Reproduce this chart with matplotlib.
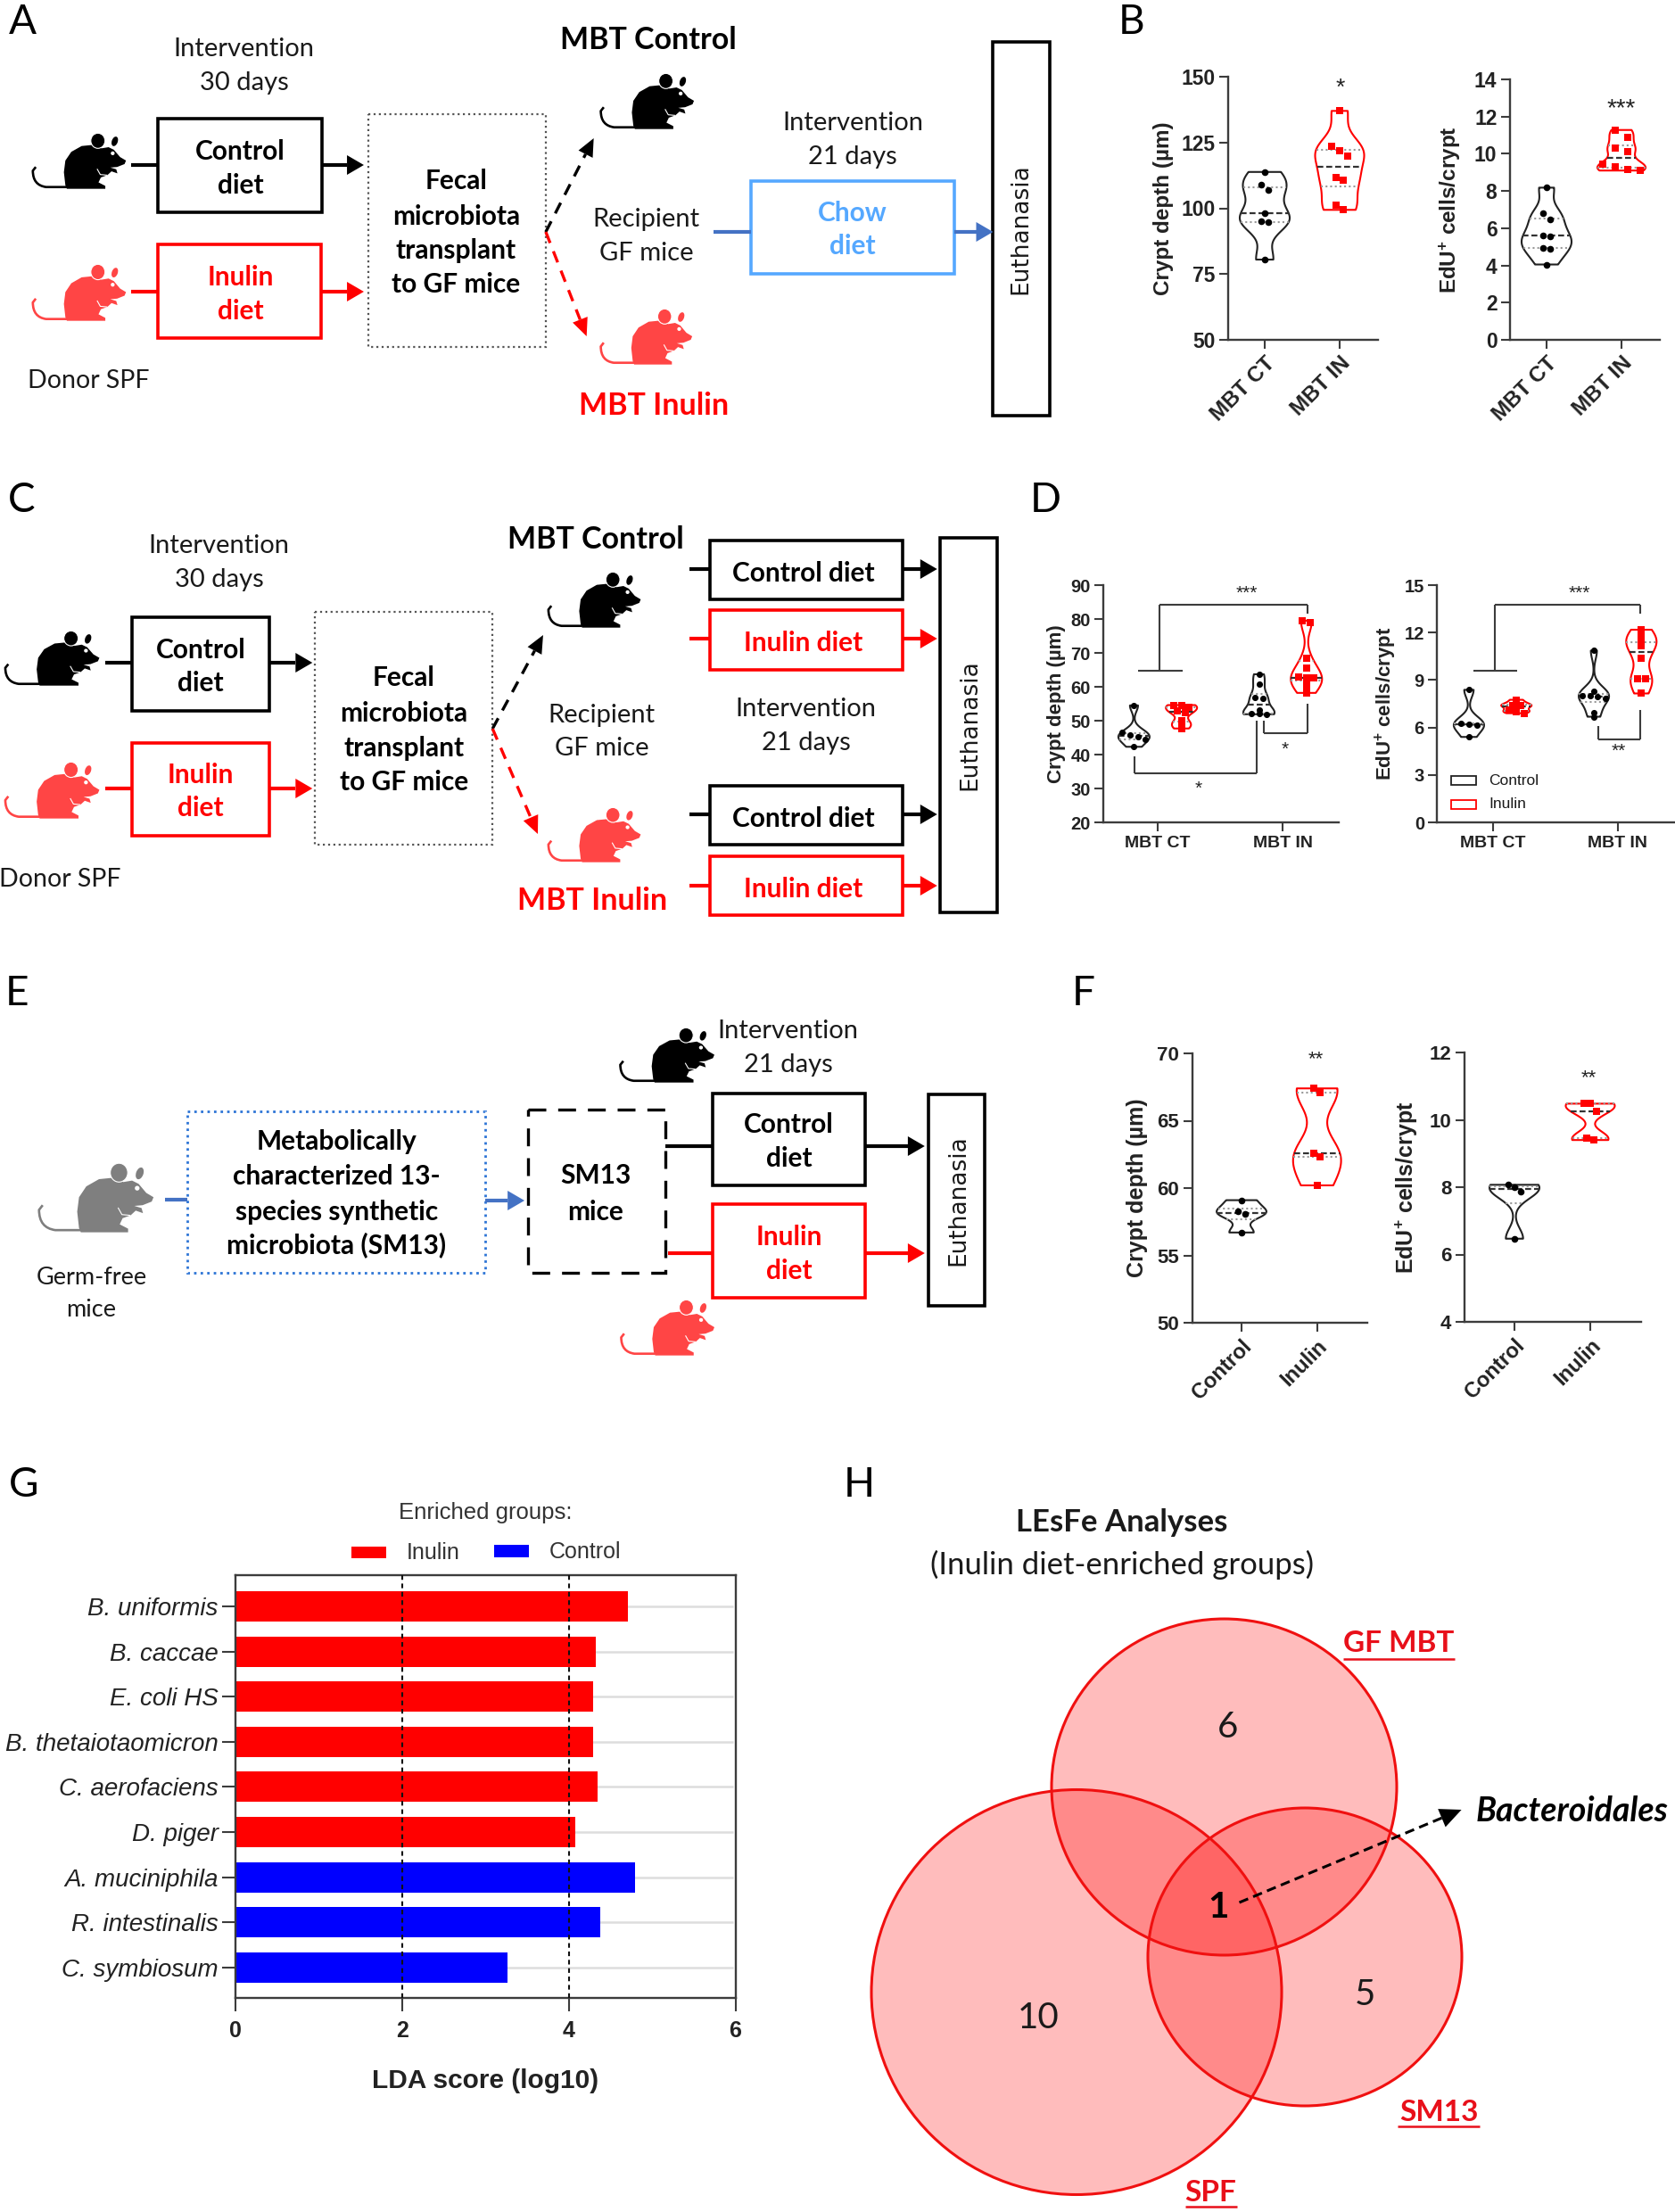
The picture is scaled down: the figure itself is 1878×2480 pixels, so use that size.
import numpy as np
import matplotlib
matplotlib.use("Agg")
import matplotlib.pyplot as plt
from matplotlib.patches import Rectangle, Ellipse, Polygon, PathPatch
from matplotlib.path import Path

plt.rcParams['font.family'] = ['Liberation Sans', 'DejaVu Sans']
plt.rcParams['mathtext.fontset'] = 'custom'
plt.rcParams['mathtext.rm'] = 'Liberation Sans'
plt.rcParams['mathtext.bf'] = 'Liberation Sans:bold'
plt.rcParams['mathtext.it'] = 'Liberation Sans:italic'

# ---------- data ----------
b_labels = ["MBT CT", "MBT IN"]
b_crypt_ct = [113.8, 108.9, 106.8, 98.1, 95.0, 94.7, 80.5]
b_crypt_in = [137.0, 123.7, 121.8, 119.7, 111.7, 110.7, 101.2, 99.4]
b_edu_ct = [8.18, 6.8, 6.45, 5.63, 5.55, 4.93, 4.9, 4.05]
b_edu_in = [11.28, 10.9, 10.33, 10.13, 9.44, 9.3, 9.17, 9.1]

d_crypt_ct_ctrl = [54.5, 46.5, 45.8, 45.2, 44.4, 42.3]
d_crypt_ct_inu = [54.6, 54.6, 53.9, 52.8, 52.4, 49.9, 48.8, 47.7]
d_crypt_in_ctrl = [63.7, 60.7, 56.8, 56.5, 53.1, 52.0, 52.0, 51.9]
d_crypt_in_inu = [79.5, 79.0, 68.3, 65.4, 62.8, 62.7, 62.7, 61.5, 60.1, 58.2]
d_edu_ct_ctrl = [8.38, 6.27, 6.23, 6.15, 5.4]
d_edu_ct_inu = [7.75, 7.55, 7.4, 7.4, 7.25, 7.1, 7.0, 6.9]
d_edu_in_ctrl = [10.86, 8.3, 8.03, 8.0, 7.95, 7.85, 6.96, 6.68]
d_edu_in_inu = [12.18, 11.72, 11.3, 11.15, 10.35, 9.07, 9.07, 8.15]

f_labels = ["Control", "Inulin"]
f_crypt_ctrl = [59.1, 58.3, 58.05, 56.7]
f_crypt_inu = [67.4, 67.1, 62.6, 62.3, 60.2]
f_edu_ctrl = [8.07, 8.0, 7.87, 6.47]
f_edu_inu = [10.48, 10.48, 10.25, 9.47, 9.4]

g_taxa = ["B. uniformis", "B. caccae", "E. coli HS", "B. thetaiotaomicron", "C. aerofaciens",
          "D. piger", "A. muciniphila", "R. intestinalis", "C. symbiosum"]
g_scores = [4.71, 4.33, 4.29, 4.29, 4.345, 4.075, 4.80, 4.38, 3.265]
g_groups = ["Inulin"] * 6 + ["Control"] * 3
venn_counts = ["6", "10", "5", "1"]

# ---------- figure ----------
W, H = 1878, 2480
fig = plt.figure(figsize=(W / 100, H / 100), dpi=100, facecolor='white')
ov_d = fig.add_axes([0, 0, 1, 1], zorder=10)
ov_d.set_xlim(0, W); ov_d.set_ylim(H, 0); ov_d.axis('off'); ov_d.patch.set_alpha(0)
ov_s = fig.add_axes([0, 0, 1, 1], zorder=11, label='schemes')
ov_s.set_xlim(0, W / 0.995); ov_s.set_ylim(H, 0); ov_s.axis('off'); ov_s.patch.set_alpha(0)
ov = ov_d

SC = 'Lato'
RED = '#ff0000'; MRED = '#ff4545'; DARK = '#3c3c3c'
FS = 21      # plain schematic text
FB = 21.5    # bold schematic text
FM = 24.5    # MBT headings

def T(x, y, s, size=FS, color='#1a1a1a', weight='normal', family=SC, ha='center', va='center', **kw):
    if family == SC:
        y = y + 2
    return ov.text(x, y, s, fontsize=size, color=color, fontweight=weight, family=family, ha=ha, va=va, **kw)

def B(x, y, s, color='black'):
    return T(x, y, s, size=FB, weight='bold', color=color)

def L(xs, ys, color='black', lw=2.2, ls='-', z=3):
    ov.plot(xs, ys, color=color, lw=lw, ls=ls, zorder=z, solid_capstyle='butt', dash_capstyle='butt')

def box(x0, y0, x1, y1, color='black', lw=2.6, ls='-'):
    ov.add_patch(Rectangle((x0, y0), x1 - x0, y1 - y0, fill=False, ec=color, lw=lw, ls=ls, zorder=3))

def arrow(x0, y0, x1, y1, color='black', lw=3, hl=19, hw=11, ls='-'):
    d = np.array([x1 - x0, y1 - y0], float); u = d / np.hypot(*d); n = np.array([-u[1], u[0]])
    tip = np.array([x1, y1]); base = tip - u * hl
    L([x0, base[0]], [y0, base[1]], color, lw, ls)
    ov.add_patch(Polygon([tip, base + n * hw, base - n * hw], closed=True, fc=color, ec='none', zorder=4))

def mouse(x0, y0, x1, y1, color):
    fx = lambda X: x0 + (np.asarray(X, float) - 40) / 315 * (x1 - x0)
    fy = lambda Y: y0 + (np.asarray(Y, float) - 38) / 190 * (y1 - y0)
    body = [(150, 215), (145, 170), (150, 130), (170, 100), (205, 80), (245, 76), (272, 88), (296, 84), (314, 93),
            (335, 118), (355, 130), (350, 142), (325, 152), (302, 154), (322, 160), (326, 174), (306, 167),
            (292, 180), (270, 188), (262, 205), (285, 217), (285, 227), (240, 227), (155, 227)]
    ov.add_patch(Polygon(list(zip(fx([p[0] for p in body]), fy([p[1] for p in body]))), closed=True, fc=color, ec='none', zorder=3))
    sx = (x1 - x0) / 315; sy = (y1 - y0) / 190
    ov.add_patch(Ellipse((fx(260), fy(62)), 48 * sx, 52 * sy, fc=color, ec='white', lw=0.8, zorder=4))
    ov.add_patch(Ellipse((fx(317), fy(64)), 20 * sx, 34 * sy, angle=20, fc=color, ec='none', zorder=4))
    ov.add_patch(Ellipse((fx(310), fy(105)), 13 * sx, 13 * sy, fc='white', ec='none', zorder=5))
    ov.plot(fx([258, 268, 290]), fy([160, 178, 180]), color='white', lw=0.8, zorder=5)
    tail = Path(list(zip(fx([155, 85, 40, 40, 50]), fy([221, 221, 215, 165, 152]))),
                [Path.MOVETO, Path.LINETO, Path.CURVE3, Path.CURVE3, Path.LINETO])
    ov.add_patch(PathPatch(tail, fill=False, ec=color, lw=1.9, zorder=3))

# ---------- panel letters ----------
for s, x, y in [("A", 25, 23), ("B", 1269, 23), ("C", 24, 559), ("D", 1172, 559), ("E", 19, 1112),
                ("F", 1215, 1112), ("G", 27, 1663), ("H", 963, 1663)]:
    T(x, y, s, size=33, color='black')

ov = ov_s
# ---------- panel A ----------
T(275, 53, "Intervention"); T(275, 91, "30 days")
T(731, 43, "MBT Control", size=FM, weight='bold', color='black')
mouse(37, 150, 142, 212, 'black'); mouse(37, 297, 142, 360, MRED)
mouse(677, 83, 782, 145, 'black'); mouse(677, 347, 780, 409, MRED)
box(178, 133, 363, 238); L([148, 178], [185, 185], lw=3); arrow(363, 185, 410, 185)
B(271, 168, "Control"); B(271, 206, "diet")
box(178, 274, 362, 379, RED); L([148, 178], [327, 327], RED, 3); arrow(362, 327, 410, 327, RED)
B(271, 309, "Inulin", RED); B(271, 347, "diet", RED)
box(415, 128, 615, 389, '#555555', 1.6, ':')
for y, s in zip([201, 241, 279, 317], ["Fecal", "microbiota", "transplant", "to GF mice"]):
    B(514, y, s)
arrow(615, 260, 669, 155, 'black', 2.4, 20, 9, (0, (4, 3)))
arrow(615, 260, 661, 377, RED, 2.4, 20, 9, (0, (4, 3)))
T(728, 244, "Recipient"); T(728, 282, "GF mice")
T(961, 136, "Intervention"); T(961, 174, "21 days")
box(846, 203, 1075, 307, '#55a8ff'); L([804, 846], [260, 260], '#4472c4', 3); arrow(1075, 260, 1119, 260, '#4472c4')
B(961, 237, "Chow", '#55a8ff'); B(961, 274, "diet", '#55a8ff')
box(1119, 47, 1183, 466)
T(1150, 257, "Euthanasia", size=19, rotation=90, family='DejaVu Sans')
T(737, 453, "MBT Inulin", size=FM, weight='bold', color=RED)
T(100, 425, "Donor SPF", size=20.5)

# ---------- panel C ----------
T(247, 610, "Intervention"); T(247, 648, "30 days")
T(671, 603, "MBT Control", size=FM, weight='bold', color='black')
mouse(6, 708, 112, 769, 'black'); mouse(6, 855, 112, 918, MRED)
mouse(618, 642, 722, 704, 'black'); mouse(618, 906, 722, 967, MRED)
box(149, 692, 304, 797); L([119, 149], [743, 743], lw=3); arrow(304, 743, 352, 743)
B(226, 727, "Control"); B(226, 764, "diet")
box(149, 833, 304, 937, RED); L([119, 149], [884, 884], RED, 3); arrow(304, 884, 352, 884, RED)
B(226, 867, "Inulin", RED); B(226, 904, "diet", RED)
box(355, 686, 555, 947, '#555555', 1.6, ':')
for y, s in zip([758, 798, 837, 875], ["Fecal", "microbiota", "transplant", "to GF mice"]):
    B(455, y, s)
arrow(555, 817, 612, 712, 'black', 2.4, 20, 9, (0, (4, 3)))
arrow(555, 817, 606, 935, RED, 2.4, 20, 9, (0, (4, 3)))
T(678, 800, "Recipient"); T(678, 837, "GF mice")
T(908, 793, "Intervention"); T(908, 831, "21 days")
for y0, y1, yl, yt, s, c in [(606, 672, 638, 641, "Control diet", 'black'), (684, 751, 716, 719, "Inulin diet", RED),
                             (881, 947, 913, 916, "Control diet", 'black'), (960, 1026, 993, 995, "Inulin diet", RED)]:
    box(800, y0, 1017, y1, c); L([777, 800], [yl, yl], c, 3); arrow(1017, yl, 1056, yl, c)
    B(905, yt, s, c)
box(1059, 603, 1124, 1023)
T(1093, 813, "Euthanasia", size=19, rotation=90, family='DejaVu Sans')
T(667, 1008, "MBT Inulin", size=FM, weight='bold', color=RED)
T(68, 984, "Donor SPF", size=20.5)

# ---------- panel E ----------
mouse(44, 1305, 173, 1382, '#7f7f7f')
L([186, 211], [1345, 1345], '#4472c4', 3)
box(211, 1246, 547, 1427, '#2e75d6', 2, ':')
for y, s in zip([1278, 1317, 1357, 1394], ["Metabolically", "characterized 13-", "species synthetic", "microbiota (SM13)"]):
    B(379, y, s)
arrow(547, 1346, 591, 1346, '#4472c4')
box(595, 1244, 750, 1427, 'black', 2.4, (0, (6, 4)))
B(671, 1316, "SM13"); B(671, 1357, "mice")
box(803, 1226, 975, 1329); L([750, 803], [1285, 1285], lw=3); arrow(975, 1285, 1042, 1285)
B(889, 1259, "Control"); B(889, 1297, "diet")
box(803, 1350, 975, 1455, RED); L([753, 803], [1405, 1405], RED, 3); arrow(975, 1405, 1042, 1405, RED)
B(889, 1385, "Inulin", RED); B(889, 1423, "diet", RED)
box(1046, 1227, 1110, 1464)
T(1080, 1346, "Euthanasia", size=19, rotation=90, family='DejaVu Sans')
mouse(699, 1153, 805, 1214, 'black'); mouse(700, 1458, 805, 1520, MRED)
T(888, 1154, "Intervention"); T(888, 1192, "21 days")
T(103, 1431, "Germ-free", size=19.5); T(103, 1466, "mice", size=19.5)
ov = ov_d

# ---------- helpers for data axes ----------
def data_ax(left, right, top, bottom, ylim, yticks, x1px, upx, labels, ylabel, labx, tick_fs, xl_rot=45, xl_fs=17.5, lab_fs=17.5):
    ax = fig.add_axes([left / W, 1 - bottom / H, (right - left) / W, (bottom - top) / H], zorder=5)
    ax.set_xlim(1 - (x1px - left) / upx, 1 + (right - x1px) / upx)
    ax.set_ylim(*ylim); ax.set_yticks(yticks); ax.set_xticks([1, 2])
    if xl_rot:
        ax.set_xticklabels(labels, rotation=xl_rot, ha='right', rotation_mode='anchor', fontsize=xl_fs, fontweight='bold', color='#222222')
    else:
        ax.set_xticklabels(labels, fontsize=xl_fs, fontweight='bold', color='#222222')
    for s in ['top', 'right']:
        ax.spines[s].set_visible(False)
    for s in ['left', 'bottom']:
        ax.spines[s].set_color(DARK); ax.spines[s].set_linewidth(1.7)
    ax.tick_params(axis='both', length=7, width=1.5, color=DARK)
    for t in ax.get_yticklabels():
        t.set_fontsize(tick_fs); t.set_fontweight('bold'); t.set_color('#222222')
    ax.set_ylabel(ylabel, fontsize=lab_fs, fontweight='bold', color='#222222')
    ax.yaxis.set_label_coords((labx + 12 - left) / (right - left), 0.5)
    ax.patch.set_alpha(0)
    return ax

def swarm(vals, d, tol):
    vals = sorted(vals, reverse=True)
    groups = [[vals[0]]]
    for v in vals[1:]:
        if groups[-1][-1] - v < tol:
            groups[-1].append(v)
        else:
            groups.append([v])
    ys, xs = [], []
    for g in groups:
        for i, v in enumerate(g):
            ys.append(v); xs.append((i - (len(g) - 1) / 2) * d)
    return np.array(xs), np.array(ys)

def violin(ax, vals, pos, width, color, marker, d, tol, bw=0.42, ms=30):
    p = ax.violinplot([vals], [pos], widths=width, showextrema=False, bw_method=bw, points=200)
    b = p['bodies'][0]
    b.set_facecolor('none'); b.set_edgecolor(color if color == RED else '#222222'); b.set_linewidth(1.5); b.set_alpha(1)
    v = b.get_paths()[0].vertices
    r = v[v[:, 0] >= pos]; r = r[np.argsort(r[:, 1])]
    for q, ls, c, lw in [(25, (0, (1, 1.5)), '#999999', 1.5), (50, (0, (3, 1.5)), '#333333', 1.6), (75, (0, (1, 1.5)), '#999999', 1.5)]:
        y = np.percentile(vals, q)
        hw = np.interp(y, r[:, 1], r[:, 0]) - pos
        ax.plot([pos - hw, pos + hw], [y, y], color=c, lw=lw, ls=ls, zorder=2)
    xs, ys = swarm(vals, d, tol)
    ax.scatter(pos + xs, ys, s=ms, c='black' if color != RED else RED, marker=marker, zorder=4, linewidths=0, clip_on=False)

def star(x, y, s, size=15):
    ov.text(x, y + 0.58 * size * 1.389 - 2, s, fontsize=size, color='#222222', ha='center', va='baseline', family='Liberation Sans', zorder=8)

EDU = r'$\mathbf{EdU^{+}\ cells/crypt}$'
CRYPT = 'Crypt depth (µm)'

# ---------- panel B ----------
ax = data_ax(1377, 1545, 86, 381, (50, 150), [50, 75, 100, 125, 150], 1418, 84, b_labels, CRYPT, 1304, 16.5)
violin(ax, b_crypt_ct, 1, 56 / 84, 'k', 'o', 0.105, 2.5)
violin(ax, b_crypt_in, 2, 55 / 84, RED, 's', 0.105, 2.5)
ax = data_ax(1693, 1861, 89, 381, (0, 14), list(range(0, 15, 2)), 1734, 84, b_labels, EDU, 1628, 16.5)
violin(ax, b_edu_ct, 1, 56 / 84, 'k', 'o', 0.105, 0.4)
violin(ax, b_edu_in, 2, 54 / 84, RED, 's', 0.167, 0.4)
star(1503, 93, "*", 19); star(1818, 115, "***", 20)

# ---------- panel D ----------
dx = lambda x: 1150 + (np.asarray(x, float) - 1150) * 0.9935
ax = data_ax(dx(1238), dx(1503), 656, 922, (20, 90), list(range(20, 91, 10)), dx(1299), 140.1, b_labels, CRYPT, dx(1183), 14.5, xl_rot=0, xl_fs=14, lab_fs=16)
for vals, pos, c, m in [(d_crypt_ct_ctrl, 0.81, 'k', 'o'), (d_crypt_ct_inu, 1.19, RED, 's'),
                        (d_crypt_in_ctrl, 1.81, 'k', 'o'), (d_crypt_in_inu, 2.19, RED, 's')]:
    violin(ax, vals, pos, 35 / 140, c, m, 0.062, 0.9, ms=26)
ax = data_ax(dx(1614.5), 1877, 656, 922, (0, 15), list(range(0, 16, 3)), dx(1677), 140.1, b_labels, EDU, dx(1559), 14.5, xl_rot=0, xl_fs=14, lab_fs=16)
for vals, pos, c, m in [(d_edu_ct_ctrl, 0.81, 'k', 'o'), (d_edu_ct_inu, 1.19, RED, 's'),
                        (d_edu_in_ctrl, 1.81, 'k', 'o'), (d_edu_in_inu, 2.19, RED, 's')]:
    violin(ax, vals, pos, 34 / 140, c, m, 0.062, 0.12, ms=26)
LB = dict(color=DARK, lw=1.5)
for xs, ys in [([1301, 1468], [678, 678]), ([1301, 1301], [678, 752]), ([1277, 1327], [752, 752]), ([1468, 1468], [678, 688]),
               ([1468, 1468], [789, 822]), ([1419, 1419], [808, 822]), ([1419, 1468], [822, 822]),
               ([1273, 1273], [848, 867]), ([1273, 1411], [867, 867]), ([1411, 1411], [808, 867]),
               ([1679, 1844], [678, 678]), ([1679, 1679], [678, 752]), ([1655, 1705], [752, 752]), ([1844, 1844], [678, 688]),
               ([1844, 1844], [796, 829]), ([1796, 1796], [814, 829]), ([1796, 1844], [829, 829])]:
    L(dx(xs), ys, **LB)
star(dx(1399), 661, "***", 15); star(dx(1775), 661, "***", 15); star(dx(1443), 836, "*", 15); star(dx(1345), 880, "*", 15); star(dx(1819), 838, "**", 15)
box(dx(1630), 870, dx(1658), 880, '#222222', 1.3); box(dx(1630), 897, dx(1658), 907, RED, 1.3)
T(dx(1673), 875, "Control", size=12.5, family='Liberation Sans', ha='left'); T(dx(1673), 902, "Inulin", size=12.5, family='Liberation Sans', ha='left')

# ---------- panel F ----------
ax = data_ax(1336.5, 1533.4, 1181, 1483, (50, 70), [50, 55, 60, 65, 70], 1392, 84.7, f_labels, CRYPT, 1275, 16, xl_fs=17, lab_fs=18)
violin(ax, f_crypt_ctrl, 1, 56 / 85, 'k', 'o', 0.085, 0.5, bw=0.45)
violin(ax, f_crypt_inu, 2, 54 / 85, RED, 's', 0.085, 0.5, bw=0.45)
ax = data_ax(1641.9, 1839.8, 1180, 1482, (4, 12), [4, 6, 8, 10, 12], 1698, 85, f_labels, EDU, 1580, 16, xl_fs=17, lab_fs=18)
violin(ax, f_edu_ctrl, 1, 56 / 85, 'k', 'o', 0.085, 0.25, bw=0.4)
violin(ax, f_edu_inu, 2, 55 / 85, RED, 's', 0.085, 0.25, bw=0.4)
star(1475, 1182, "**", 16); star(1781, 1203, "**", 16)

# ---------- panel G ----------
gL, gR, gT, gB, g0, gS = 264, 824.5, 1766, 2240, 1801, 50.6
gx = fig.add_axes([gL / W, 1 - gB / H, (gR - gL) / W, (gB - gT) / H], zorder=5)
ypos = np.arange(len(g_taxa))
colors = {"Inulin": '#ff0000', "Control": '#0000ff'}
gx.hlines(ypos, 0, 5.97, color='#dddddd', lw=1.8, zorder=1)
gx.barh(ypos, g_scores, height=34 / gS, color=[colors[g] for g in g_groups], zorder=2)
gx.set_xlim(0, 6); gx.set_ylim((gB - g0) / gS, (gT - g0) / gS)
gx.axvline(2, color='#111111', lw=1.5, ls=(0, (2.5, 2)), zorder=3)
gx.axvline(4, color='#111111', lw=1.5, ls=(0, (2.5, 2)), zorder=3)
gx.set_yticks(ypos); gx.set_yticklabels(g_taxa, fontsize=20, style='italic', color='#222222')
gx.set_xticks([0, 2, 4, 6])
for t in gx.get_xticklabels():
    t.set_fontsize(18); t.set_fontweight('bold'); t.set_color('#222222')
gx.tick_params(axis='x', length=11, width=1.5, color=DARK, pad=7)
gx.tick_params(axis='y', length=11, width=1.5, color=DARK, pad=3)
for s in gx.spines.values():
    s.set_color(DARK); s.set_linewidth(1.7)
ov = ov_s
T(547, 1696, "Enriched groups:", size=18.5, family='Liberation Sans', color='#333333')
ov.add_patch(Rectangle((396, 1734), 39, 13, fc='#ff0000', ec='none'))
T(458, 1741, "Inulin", size=18, family='Liberation Sans', ha='left', color='#333333')
ov.add_patch(Rectangle((557, 1732), 39, 14, fc='#0000ff', ec='none'))
T(619, 1740, "Control", size=18, family='Liberation Sans', ha='left', color='#333333')
T(547, 2333, "LDA score (log10)", size=21.5, weight='bold', family='Liberation Sans', color='#222222')
ov = ov_d

# ---------- panel H ----------
venn = [(1372.5, 2003.5, 193.5, 188.5), (1207, 2233.5, 230, 227), (1463, 2194, 176, 167)]
for cx, cy, rx, ry in venn:
    ov.add_patch(Ellipse((cx, cy), 2 * rx, 2 * ry, fc=(1, 0, 0, 0.263), ec='none', zorder=2))
for cx, cy, rx, ry in venn:
    ov.add_patch(Ellipse((cx, cy), 2 * rx, 2 * ry, fc='none', ec='#f01010', lw=2.2, zorder=3))
T(1258, 1705, "LEsFe Analyses", size=25, weight='bold', color='#1a1a1a')
T(1258, 1752, "(Inulin diet-enriched groups)", size=25, color='#1a1a1a')
for x, y, s, x0, x1, yu in [(1568, 1841, "GF MBT", 1506, 1631, 1860), (1613, 2366, "SM13", 1567, 1659, 2384), (1357, 2457, "SPF", 1329, 1387, 2474)]:
    T(x, y, s, size=24, weight='bold', color='#e8101a'); L([x0, x1], [yu, yu], '#e8101a', 1.8)
for (x, y), s in zip([(1377, 1934), (1164, 2260), (1530, 2235)], venn_counts[:3]):
    T(x, y, s, size=29, color='#1a1a1a')
T(1366, 2137, venn_counts[3], size=29, weight='bold', color='black')
arrow(1389.5, 2133, 1638.6, 2029, 'black', 2.2, 24, 11, (0, (3.5, 2)))
T(1762, 2029, "Bacteroidales", size=27, weight='bold', style='italic', color='black')

fig.savefig('out.png', dpi=100, facecolor='white')
